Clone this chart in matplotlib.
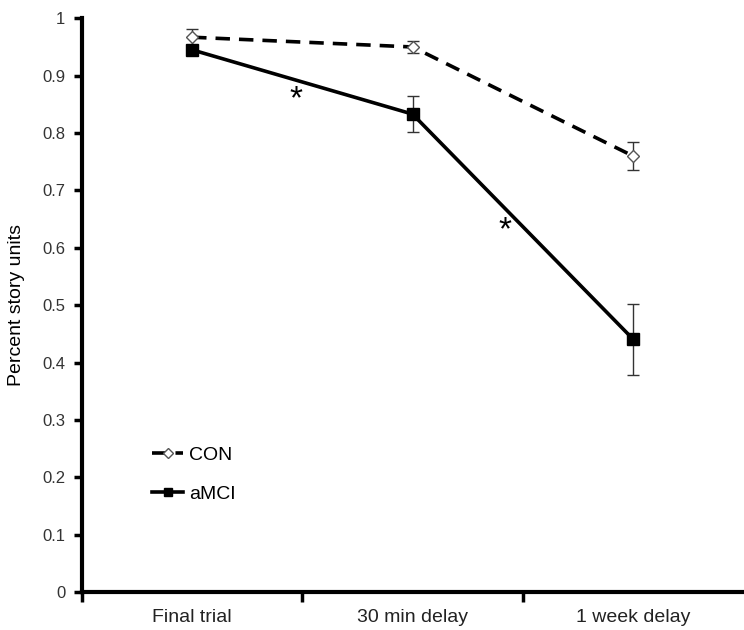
import numpy as np
import matplotlib
matplotlib.use("Agg")
import matplotlib.pyplot as plt
from matplotlib.lines import Line2D

plt.rcParams['font.family'] = ['Liberation Sans', 'DejaVu Sans']

categories = ['Final trial', '30 min delay', '1 week delay']
con = [0.967, 0.950, 0.760]
con_err = [0.015, 0.010, 0.025]
amci = [0.945, 0.833, 0.441]
amci_err = [0.005, 0.032, 0.062]
# asterisk positions (x in category units, y in data units)
stars_x = [0.47, 1.42]
stars_y = [0.858, 0.630]

fig = plt.figure(figsize=(7.44, 6.3), dpi=100)
ax = fig.add_axes([0.110, 0.060, 0.889, 0.911])

x = np.arange(len(categories))
con_style = dict(color='black', ls=(0, (4, 2.5)), lw=2.6,
                 marker='D', ms=6, mfc='white', mec='#555555', mew=1)
amci_style = dict(color='black', ls='-', lw=2.6,
                  marker='s', ms=8, mfc='black', mec='black')
ax.errorbar(x, con, yerr=con_err, ecolor='#333333', elinewidth=1, capsize=4, **con_style)
ax.errorbar(x, amci, yerr=amci_err, ecolor='#333333', elinewidth=1, capsize=4, **amci_style)

for sx, sy in zip(stars_x, stars_y):
    ax.text(sx, sy, '*', fontsize=24, ha='center', va='center')

ax.set_xlim(-0.5, 2.5)
ax.set_ylim(0, 1)
ax.set_yticks(np.arange(0, 1.01, 0.1))
ax.set_yticklabels(['0', '0.1', '0.2', '0.3', '0.4', '0.5', '0.6', '0.7', '0.8', '0.9', '1'])
ax.set_xticks(x)
ax.set_xticklabels(categories, fontsize=14, color='#222222')
ax.set_xticks([-0.5, 0.5, 1.5], minor=True)
ax.tick_params(axis='x', which='major', length=0, pad=12)
ax.tick_params(axis='x', which='minor', length=7, width=2.5, direction='out')
ax.tick_params(axis='y', length=6, width=2.5, direction='out', labelsize=12,
               labelcolor='#333333', pad=6)
ax.set_ylabel('Percent story units', fontsize=14, labelpad=12)

for s in ['top', 'right']:
    ax.spines[s].set_visible(False)
for s in ['left', 'bottom']:
    ax.spines[s].set_linewidth(3)

handles = [Line2D([], [], **dict(con_style, ms=5)), Line2D([], [], **dict(amci_style, ms=6))]
ax.legend(handles, ['CON', 'aMCI'], loc='lower left', bbox_to_anchor=(0.08, 0.125),
          frameon=False, fontsize=14, handlelength=1.6, handletextpad=0.3,
          labelspacing=1.1)

fig.savefig('out.png', dpi=100)
